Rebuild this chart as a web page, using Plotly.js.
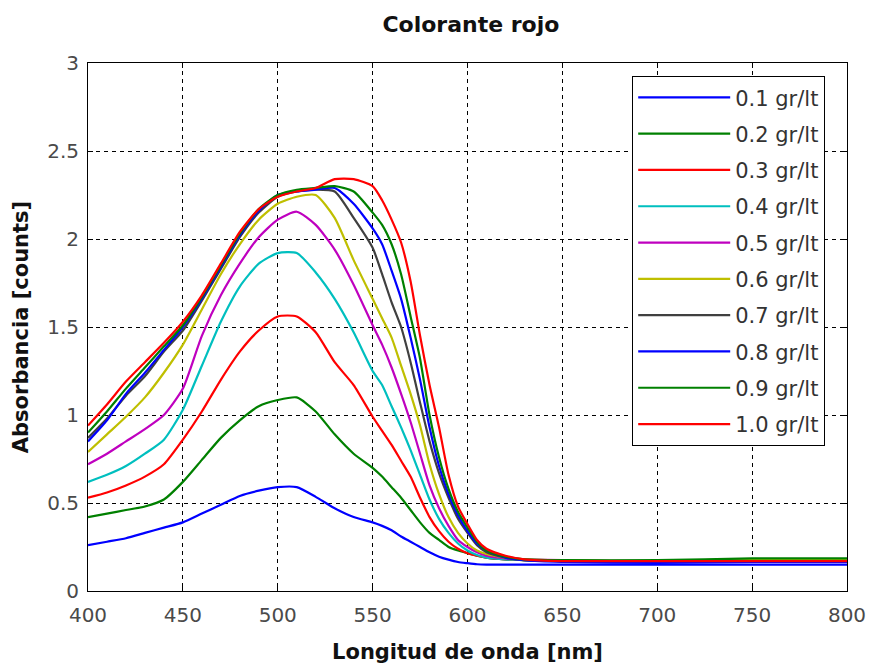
<!DOCTYPE html>
<html>
<head>
<meta charset="utf-8">
<script src="https://cdn.plot.ly/plotly-3.0.1.min.js"></script>
<style>html,body{margin:0;padding:0;background:#fff;}#chart{width:872px;height:670px;}</style>
</head>
<body>
<div id="chart"></div>
<script>
// Wavelength grid (nm)
var wavelength = [400,410,420,430,440,450,460,470,480,490,500,510,520,530,540,550,555,560,565,570,575,580,585,590,595,600,605,610,620,630,650,700,750,800];

// Absorbance for each concentration
var abs01 = [0.26,0.28,0.30,0.33,0.36,0.39,0.44,0.49,0.54,0.57,0.59,0.59,0.535,0.47,0.42,0.39,0.37,0.345,0.31,0.28,0.25,0.22,0.195,0.178,0.165,0.158,0.152,0.15,0.15,0.15,0.15,0.15,0.15,0.15];
var abs02 = [0.42,0.44,0.46,0.48,0.52,0.62,0.745,0.87,0.97,1.05,1.085,1.10,1.02,0.89,0.78,0.70,0.65,0.59,0.53,0.46,0.39,0.33,0.29,0.25,0.23,0.215,0.20,0.19,0.18,0.175,0.17,0.17,0.18,0.18];
var abs03 = [0.53,0.56,0.60,0.65,0.72,0.86,1.02,1.20,1.36,1.48,1.56,1.56,1.47,1.30,1.17,0.99,0.91,0.83,0.74,0.65,0.53,0.42,0.34,0.28,0.24,0.215,0.20,0.19,0.18,0.175,0.17,0.165,0.165,0.165];
var abs04 = [0.62,0.66,0.71,0.78,0.86,1.03,1.28,1.53,1.73,1.86,1.92,1.92,1.81,1.66,1.47,1.25,1.17,1.05,0.93,0.80,0.66,0.52,0.41,0.33,0.27,0.23,0.205,0.19,0.18,0.175,0.17,0.17,0.17,0.17];
var abs05 = [0.72,0.78,0.85,0.92,1.00,1.15,1.45,1.68,1.86,2.01,2.11,2.155,2.08,1.94,1.74,1.51,1.40,1.27,1.12,0.96,0.78,0.60,0.47,0.37,0.29,0.25,0.22,0.20,0.185,0.18,0.175,0.17,0.175,0.175];
var abs06 = [0.79,0.89,0.99,1.10,1.24,1.40,1.60,1.80,1.97,2.11,2.20,2.24,2.25,2.12,1.88,1.66,1.55,1.44,1.28,1.12,0.94,0.72,0.55,0.42,0.33,0.27,0.23,0.21,0.19,0.18,0.175,0.17,0.175,0.175];
var abs07 = [0.87,0.98,1.11,1.22,1.36,1.48,1.65,1.83,2.01,2.15,2.24,2.27,2.28,2.27,2.12,1.95,1.80,1.64,1.50,1.30,1.07,0.85,0.67,0.53,0.41,0.33,0.26,0.22,0.19,0.175,0.17,0.165,0.17,0.17];
var abs08 = [0.85,0.97,1.12,1.24,1.37,1.50,1.66,1.84,2.02,2.16,2.25,2.27,2.28,2.29,2.20,2.06,1.97,1.82,1.66,1.44,1.20,0.93,0.71,0.55,0.43,0.34,0.27,0.23,0.19,0.175,0.165,0.16,0.165,0.165];
var abs09 = [0.90,1.02,1.15,1.27,1.39,1.51,1.67,1.85,2.03,2.17,2.25,2.28,2.29,2.30,2.27,2.15,2.08,1.97,1.80,1.56,1.32,1.00,0.76,0.58,0.45,0.36,0.28,0.23,0.195,0.18,0.175,0.175,0.185,0.185];
var abs10 = [0.94,1.06,1.19,1.30,1.41,1.53,1.68,1.86,2.04,2.17,2.24,2.27,2.29,2.34,2.34,2.30,2.22,2.11,1.98,1.76,1.45,1.17,0.93,0.66,0.48,0.38,0.29,0.24,0.20,0.18,0.17,0.17,0.17,0.17];

var seriesLabels = ['0.1 gr/lt','0.2 gr/lt','0.3 gr/lt','0.4 gr/lt','0.5 gr/lt','0.6 gr/lt','0.7 gr/lt','0.8 gr/lt','0.9 gr/lt','1.0 gr/lt'];
var seriesValues = [abs01,abs02,abs03,abs04,abs05,abs06,abs07,abs08,abs09,abs10];
var seriesColors = ['#0000FF','#008000','#FF0000','#00BFBF','#BF00BF','#BFBF00','#404040','#0000FF','#008000','#FF0000'];

var xTicks = [400,450,500,550,600,650,700,750,800];
var yTicks = [0,0.5,1,1.5,2,2.5,3];

var traces = seriesValues.map(function(vals, i){
  return {
    x: wavelength, y: vals, type: 'scatter', mode: 'lines',
    name: seriesLabels[i], legendgroup: 'g'+i,
    line: {color: seriesColors[i], width: 2.2, shape: 'spline', smoothing: 0.6}
  };
});

var tickFont = {family: 'DejaVu Sans, sans-serif', size: 20, color: '#4a4a4a'};
var titleFont = {family: 'DejaVu Sans, sans-serif', size: 21, color: '#111', weight: 'bold'};

var layout = {
  width: 872, height: 670,
  margin: {l: 88, r: 25, t: 63, b: 79},
  paper_bgcolor: '#fff', plot_bgcolor: '#fff',
  title: {text: 'Colorante rojo', font: {family: 'DejaVu Sans, sans-serif', size: 22, color: '#111', weight: 'bold'},
          x: 0.54, xanchor: 'center', y: 0.963, yanchor: 'middle', yref: 'container'},
  xaxis: {
    range: [400, 800], tickvals: xTicks, ticktext: xTicks.map(String),
    showgrid: true, gridcolor: '#000', gridwidth: 1, griddash: '4px,4px',
    showline: true, linecolor: '#000', linewidth: 1, mirror: 'ticks',
    ticks: 'inside', ticklen: 5, tickcolor: '#000', zeroline: false,
    tickfont: tickFont, ticklabelstandoff: 6,
    title: {text: 'Longitud de onda [nm]', font: titleFont, standoff: 18}
  },
  yaxis: {
    range: [0, 3], tickvals: yTicks, ticktext: yTicks.map(String),
    showgrid: true, gridcolor: '#000', gridwidth: 1, griddash: '4px,4px',
    showline: true, linecolor: '#000', linewidth: 1, mirror: 'ticks',
    ticks: 'inside', ticklen: 5, tickcolor: '#000', zeroline: false,
    tickfont: tickFont, ticklabelstandoff: 4,
    title: {text: 'Absorbancia [counts]', font: titleFont, standoff: 12}
  },
  showlegend: true,
  legend: {
    x: 0.717, xanchor: 'left', y: 0.975, yanchor: 'top',
    bgcolor: '#fff', bordercolor: '#000', borderwidth: 1,
    font: {family: 'DejaVu Sans, sans-serif', size: 21, color: '#333'},
    itemwidth: 92, tracegroupgap: 6, traceorder: 'grouped'
  }
};

Plotly.newPlot('chart', traces, layout, {displayModeBar: false, staticPlot: true});
</script>
</body>
</html>
